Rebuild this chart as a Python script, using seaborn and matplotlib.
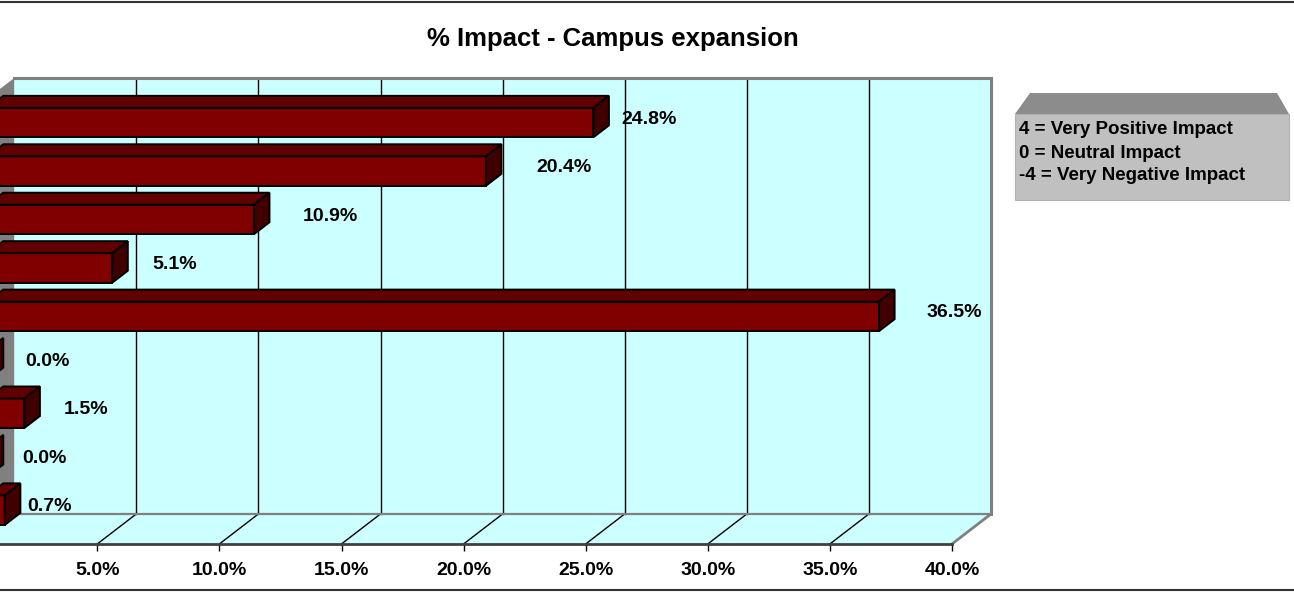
import matplotlib
matplotlib.use("Agg")
import matplotlib.pyplot as plt
import matplotlib.transforms as mtransforms
from matplotlib.patches import Polygon
from matplotlib.lines import Line2D
import pandas as pd
import seaborn as sns

# ---- data -------------------------------------------------------------
ratings = ["4", "3", "2", "1", "0", "-1", "-2", "-3", "-4"]
shares = [24.8, 20.4, 10.9, 5.1, 36.5, 0.0, 1.5, 0.0, 0.7]
x_ticks = [5, 10, 15, 20, 25, 30, 35, 40]
chart_title = "% Impact - Campus expansion"
legend_lines = ["4 = Very Positive Impact", "0 = Neutral Impact", "-4 = Very Negative Impact"]

# horizontal nudge (pixels) of each value label past the end of its bar
label_nudge_px = [48.6, 71.6, 69.6, 55.0, 67.8, 52.8, 54.5, 49.8, 38.0]

# ---- layout (pixels on a 1294 x 592 canvas) ---------------------------
W, H, DPI = 1294, 592, 100
ZERO_PX = -24.8          # where 0 % sits on the front plane
PX_PER_PCT = 24.42
FRONT_TOP_PX = 108       # top of the front plane
ROW_PX = 48.44           # height of one category slot
DEPTH_X_PX, DEPTH_Y_PX = 39, 30
X_MAX = 40
BAR_FRONT, BAR_BACK = 0.32, 0.72   # bar depth span as fraction of the box depth
BAR_WIDTH = 0.61

WALL = "#CCFFFF"
SIDE_WALL = "#808080"
EDGE_GRAY = "#808080"
BAR_FRONT_C, BAR_TOP_C, BAR_SIDE_C = "#800000", "#600000", "#400000"

plt.rcParams["font.family"] = ["Liberation Sans", "DejaVu Sans"]
plt.rcParams["font.weight"] = "bold"

fig = plt.figure(figsize=(W / DPI, H / DPI), dpi=DPI)
fig.patch.set_facecolor("white")
ax = fig.add_axes([0, 0, 1, 1])
ax.set_facecolor("none")

df = pd.DataFrame({"rating": ratings, "share": shares})
sns.barplot(data=df, x="share", y="rating", order=ratings, orient="h",
            color=BAR_FRONT_C, saturation=1, width=BAR_WIDTH,
            edgecolor="black", linewidth=1.4, errorbar=None, ax=ax, zorder=3)
bars = list(ax.patches)

n = len(ratings)
ax.set_xlim((0 - ZERO_PX) / PX_PER_PCT, (W - ZERO_PX) / PX_PER_PCT)
ax.set_ylim((H - FRONT_TOP_PX) / ROW_PX - 0.5, (0 - FRONT_TOP_PX) / ROW_PX - 0.5)

DX = DEPTH_X_PX / PX_PER_PCT
DY = DEPTH_Y_PX / ROW_PX


def proj(v, c, d):
    """Map (value, category position, depth fraction) onto the drawing plane."""
    return (v + d * DX, c - d * DY)


top_c, bot_c = -0.5, n - 0.5

# walls and floor
ax.add_patch(Polygon([proj(0, top_c, 1), proj(X_MAX, top_c, 1),
                      proj(X_MAX, bot_c, 1), proj(0, bot_c, 1)],
                     closed=True, facecolor=WALL, edgecolor="none", zorder=0))
ax.add_patch(Polygon([proj(0, bot_c, 0), proj(X_MAX, bot_c, 0),
                      proj(X_MAX, bot_c, 1), proj(0, bot_c, 1)],
                     closed=True, facecolor=WALL, edgecolor="none", zorder=0))
ax.add_patch(Polygon([proj(0, top_c, 0), proj(0, top_c, 1),
                      proj(0, bot_c, 1), proj(0, bot_c, 0)],
                     closed=True, facecolor=SIDE_WALL, edgecolor="none", zorder=0.2))

# gridlines on the back wall and across the floor
for t in x_ticks:
    if t < X_MAX:
        (x0, y0), (x1, y1) = proj(t, top_c, 1), proj(t, bot_c, 1)
        ax.plot([x0, x1], [y0, y1], color="black", lw=1, zorder=0.5)
    (x0, y0), (x1, y1) = proj(t, bot_c, 1), proj(t, bot_c, 0)
    ax.plot([x0, x1], [y0, y1], color="black" if t < X_MAX else EDGE_GRAY,
            lw=1 if t < X_MAX else 2, zorder=0.6)

# box outline
for a, b, lw in [((0, top_c, 1), (X_MAX, top_c, 1), 2.2),
                 ((X_MAX, top_c, 1), (X_MAX, bot_c, 1), 2.2),
                 ((0, bot_c, 1), (X_MAX, bot_c, 1), 1.6)]:
    (x0, y0), (x1, y1) = proj(*a), proj(*b)
    ax.plot([x0, x1], [y0, y1], color=EDGE_GRAY, lw=lw, zorder=0.7)

# bars: shift the seaborn faces into depth, then add top and side faces
shift = mtransforms.Affine2D().translate(BAR_FRONT * DX, -BAR_FRONT * DY) + ax.transData
for p in bars:
    p.set_transform(shift)
    v = p.get_width()
    c0 = p.get_y()
    c1 = c0 + p.get_height()
    ax.add_patch(Polygon([proj(0, c0, BAR_FRONT), proj(v, c0, BAR_FRONT),
                          proj(v, c0, BAR_BACK), proj(0, c0, BAR_BACK)],
                         closed=True, facecolor=BAR_TOP_C, edgecolor="black",
                         lw=1.4, joinstyle="miter", zorder=3))
    ax.add_patch(Polygon([proj(v, c0, BAR_FRONT), proj(v, c0, BAR_BACK),
                          proj(v, c1, BAR_BACK), proj(v, c1, BAR_FRONT)],
                         closed=True, facecolor=BAR_SIDE_C, edgecolor="black",
                         lw=1.4, joinstyle="miter", zorder=3))

# value labels
for p, v, nudge in zip(bars, shares, label_nudge_px):
    c = p.get_y() + p.get_height() / 2
    ax.annotate(f"{v:.1f}%", xy=proj(v, c, 0.5), xytext=(nudge, 0),
                textcoords="offset pixels", ha="center", va="center_baseline",
                fontsize=14, fontweight="bold", color="black", zorder=5,
                annotation_clip=False)

# front floor edge acts as the value axis
for side in ["top", "left", "right"]:
    ax.spines[side].set_visible(False)
ax.spines["bottom"].set_position(("data", bot_c))
ax.spines["bottom"].set_bounds(0, X_MAX)
ax.spines["bottom"].set_color("#404040")
ax.spines["bottom"].set_linewidth(2)
ax.set_xticks(x_ticks)
ax.set_xticklabels([f"{t:.1f}%" for t in x_ticks])
ax.tick_params(axis="x", direction="out", length=5.0, width=1, color="black",
               labelsize=14, pad=8)
ax.tick_params(axis="y", left=False, labelleft=False)
ax.set_xlabel("")
ax.set_ylabel("")

# title
fig.text(613 / W, 1 - 39 / H, chart_title, ha="center", va="center",
         fontsize=18.5, fontweight="bold")


# legend box
def fpx(x, y):
    return (x / W, 1 - y / H)


fig.add_artist(Polygon([fpx(1015, 114), fpx(1030, 93), fpx(1277, 93), fpx(1289, 114)],
                       closed=True, facecolor="#8C8C8C", edgecolor="none",
                       transform=fig.transFigure))
fig.add_artist(Polygon([fpx(1015, 114), fpx(1289, 114), fpx(1289, 200), fpx(1015, 200)],
                       closed=True, facecolor="#C0C0C0", edgecolor="#B0B0B0", lw=0.8,
                       transform=fig.transFigure))
for i, line in enumerate(legend_lines):
    fig.text(1019 / W, 1 - (128 + 23 * i) / H, line, ha="left", va="center_baseline",
             fontsize=13.5, fontweight="bold")

# chart frame
for yy in (2, 589.5):
    fig.add_artist(Line2D([0, 1], [1 - yy / H, 1 - yy / H], color="#333333", lw=1.5,
                          transform=fig.transFigure))

fig.savefig("out.png", dpi=DPI)
